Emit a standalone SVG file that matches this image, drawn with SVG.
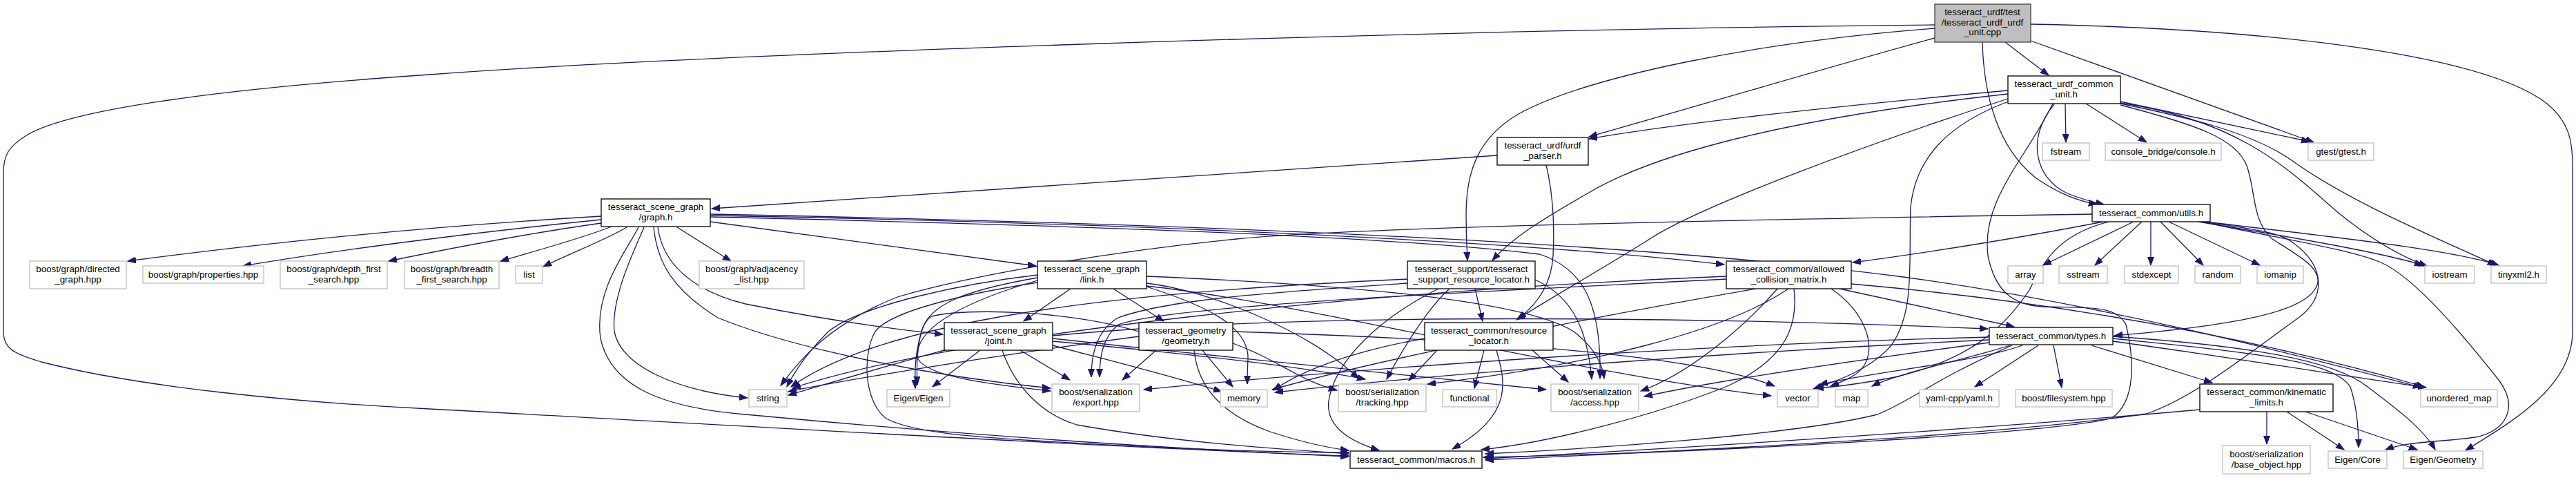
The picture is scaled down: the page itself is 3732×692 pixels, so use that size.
<svg xmlns="http://www.w3.org/2000/svg" width="3732" height="692" viewBox="0 0 3732 692">
<defs>
<marker id="ah" markerUnits="userSpaceOnUse" markerWidth="13" markerHeight="10" refX="12" refY="4.5" orient="auto">
<path d="M0,0 L12,4.5 L0,9 z" fill="#191970" stroke="#191970" stroke-width="1"/>
</marker>
<style>
.e{fill:none;stroke:#191970;stroke-width:1.3;marker-end:url(#ah)}
.n rect{fill:#ffffff;stroke:#000000;stroke-width:1.3}
.x rect{fill:#ffffff;stroke:#bfbfbf;stroke-width:1.3}
.m rect{fill:#bfbfbf;stroke:#404040;stroke-width:1.3}
text{font-family:"Liberation Sans",Arial,sans-serif;font-size:13.33px;fill:#000000;text-anchor:middle}
</style>
</defs>
<rect width="3732" height="692" fill="#ffffff"/>
<g id="edges">
<path class="e" d="M2803,36 C2000,44 1000,80 622,108 C300,130 100,160 40,195 C12,212 5,225 5,250 L5,480 C5,505 20,512 60,524 C200,560 420,582 622,592 C1000,612 1600,648 1954,660"/>
<path class="e" d="M2803,41 C2550,60 2300,110 2200,165 C2140,200 2124,250 2124,310 C2124,340 2125,360 2126,377"/>
<path class="e" d="M2803,55 C2650,97 2420,165 2302,198"/>
<path class="e" d="M2905,61 L2968,109"/>
<path class="e" d="M2872,61 C2874,140 2895,215 2950,258 C2985,282 3012,291 3038,296"/>
<path class="e" d="M2942,59 L3352,206"/>
<path class="e" d="M2942,35 C3300,42 3600,80 3690,150 C3720,175 3727,200 3727,240 L3727,480 C3727,560 3640,610 3572,652"/>
<path class="e" d="M2992,150 L2993,206"/>
<path class="e" d="M3022,150 L3110,206"/>
<path class="e" d="M3072,147 L3346,205"/>
<path class="e" d="M3072,150 C3160,168 3260,190 3320,232 C3400,290 3520,340 3616,384"/>
<path class="e" d="M3072,152 C3180,180 3240,200 3255,240 C3268,275 3262,320 3292,346 C3330,370 3368,390 3356,415 C3340,450 3250,470 3063,486"/>
<path class="e" d="M2909,131 C2700,150 2450,175 2302,201"/>
<path class="e" d="M2909,136 C2600,170 2400,220 2300,280 C2230,320 2190,345 2162,377"/>
<path class="e" d="M2909,143 C2700,210 2460,300 2390,346 C2320,390 2240,435 2197,463"/>
<path class="e" d="M2912,146 C2820,180 2775,230 2768,300 C2765,380 2775,450 2740,500 C2710,535 2660,552 2627,563"/>
<path class="e" d="M2974,150 C2935,230 2870,290 2880,370 C2890,420 2915,442 2960,444 C3020,446 3065,440 3080,470 C3092,520 3095,580 3060,605 C3000,625 2500,655 2149,662"/>
<path class="e" d="M2976,151 C2935,200 2948,258 2995,280 C3020,290 3035,293 3048,296"/>
<path class="e" d="M3072,149 C3250,175 3320,250 3390,310 C3440,350 3480,372 3516,385"/>
<path class="e" d="M2169,225 L1031,302"/>
<path class="e" d="M2240,239 C2250,280 2252,330 2250,370 C2248,410 2228,440 2199,462"/>
<path class="e" d="M871,313 C700,323 450,343 185,378"/>
<path class="e" d="M871,318 C700,335 500,360 352,385"/>
<path class="e" d="M871,323 C750,340 650,360 563,378"/>
<path class="e" d="M886,328 C840,346 780,362 725,378"/>
<path class="e" d="M908,329 C880,346 830,365 787,386"/>
<path class="e" d="M981,329 L1059,378"/>
<path class="e" d="M933,329 C920,360 885,430 890,480 C900,530 980,566 1083,576"/>
<path class="e" d="M925,329 C910,360 860,420 870,490 C885,560 960,590 1080,600 C1400,630 1700,650 1954,661"/>
<path class="e" d="M947,329 C952,380 975,420 1040,460 C1150,505 1350,545 1522,562"/>
<path class="e" d="M953,329 C960,380 1000,420 1080,440 C1180,460 1280,475 1366,484"/>
<path class="e" d="M1029,321 L1501,385"/>
<path class="e" d="M1029,312 C1600,322 2200,348 2498,383"/>
<path class="e" d="M1029,310 C1800,325 2400,355 2750,400 C3050,440 3350,520 3508,561"/>
<path class="e" d="M1029,314 C1500,325 2000,340 2230,368 C2300,390 2320,450 2318,548"/>
<path class="e" d="M1551,418 L1483,465"/>
<path class="e" d="M1613,418 L1686,465"/>
<path class="e" d="M1503,402 C1400,420 1345,440 1335,480 C1326,510 1325,535 1326,562"/>
<path class="e" d="M1503,406 C1420,430 1320,470 1330,520 C1345,545 1430,556 1522,566"/>
<path class="e" d="M1503,409 C1400,425 1290,450 1268,480 C1250,510 1250,580 1284,606 C1320,625 1400,632 1500,638 C1700,650 1850,655 1954,655"/>
<path class="e" d="M1661,410 C1750,420 1900,480 1968,548"/>
<path class="e" d="M1661,400 C1900,410 2200,430 2280,480 C2312,505 2322,530 2324,548"/>
<path class="e" d="M1661,415 C1740,440 1810,470 1808,520 C1807,540 1807,550 1807,556"/>
<path class="e" d="M1503,398 C1400,410 1250,440 1200,480 C1170,510 1150,540 1140,560"/>
<path class="e" d="M1661,414 C1900,440 2300,545 2566,573"/>
<path class="e" d="M1420,507 L1351,560"/>
<path class="e" d="M1478,507 L1550,550"/>
<path class="e" d="M1525,500 C1600,520 1700,545 1770,567"/>
<path class="e" d="M1452,507 C1470,560 1510,600 1560,615 C1700,640 1850,650 1954,657"/>
<path class="e" d="M1372,506 C1300,525 1200,555 1142,572"/>
<path class="e" d="M1525,494 C1700,510 1880,530 1978,549"/>
<path class="e" d="M1525,490 C1800,520 2100,550 2240,564"/>
<path class="e" d="M1525,486 C1900,450 2500,460 2880,476"/>
<path class="e" d="M1675,507 L1626,550"/>
<path class="e" d="M1742,507 L1786,560"/>
<path class="e" d="M1650,480 C1550,450 1400,445 1350,458 C1330,468 1327,520 1329,557"/>
<path class="e" d="M1730,507 C1735,560 1770,600 1840,625 C1880,638 1920,648 1954,652"/>
<path class="e" d="M1650,487 C1400,520 1200,555 1142,567"/>
<path class="e" d="M1786,497 C1850,520 1880,550 1937,565"/>
<path class="e" d="M1786,480 C2100,490 2450,510 2571,559"/>
<path class="e" d="M2137,418 L2148,465"/>
<path class="e" d="M2100,418 C2075,440 2040,490 2009,549"/>
<path class="e" d="M2084,418 C2000,460 1935,520 1925,580 C1920,620 1960,640 1998,652"/>
<path class="e" d="M2224,405 C2280,430 2300,480 2306,549"/>
<path class="e" d="M2039,410 C1900,420 1700,430 1620,460 C1585,480 1581,520 1581,546"/>
<path class="e" d="M2039,404 C1700,420 1300,450 1146,560"/>
<path class="e" d="M2150,507 L2136,562"/>
<path class="e" d="M2082,507 L2041,551"/>
<path class="e" d="M2220,507 L2272,553"/>
<path class="e" d="M2168,507 C2180,550 2195,600 2104,650"/>
<path class="e" d="M2064,490 C1950,510 1880,540 1845,565"/>
<path class="e" d="M2665,418 L2918,473"/>
<path class="e" d="M2653,418 C2700,450 2720,500 2700,530 C2690,545 2670,552 2652,559"/>
<path class="e" d="M2682,411 C2900,430 3200,470 3512,560"/>
<path class="e" d="M2501,404 C2200,420 1700,440 1620,470 C1596,490 1593,520 1593,546"/>
<path class="e" d="M2575,418 C2530,470 2450,540 2377,566"/>
<path class="e" d="M2599,418 C2605,470 2590,520 2500,560 C2400,600 2250,640 2146,651"/>
<path class="e" d="M2544,418 C2300,460 2000,520 1843,564"/>
<path class="e" d="M2591,418 C2500,480 2300,530 2068,556"/>
<path class="e" d="M2501,400 C2000,420 1400,480 1148,562"/>
<path class="e" d="M3030,500 L3205,554"/>
<path class="e" d="M2930,500 C2860,525 2700,540 2636,557"/>
<path class="e" d="M2912,500 C2850,520 2750,540 2712,559"/>
<path class="e" d="M2953,500 L2861,560"/>
<path class="e" d="M2975,500 L2987,561"/>
<path class="e" d="M3061,494 C3250,520 3400,545 3515,561"/>
<path class="e" d="M3061,490 C3250,510 3380,520 3405,560 C3415,590 3417,620 3417,648"/>
<path class="e" d="M3061,487 C3250,500 3380,520 3430,560 C3470,590 3510,620 3528,651"/>
<path class="e" d="M2915,500 C2800,550 2770,580 2720,600 C2600,630 2300,650 2152,657"/>
<path class="e" d="M2882,492 C2500,510 2100,540 1847,568"/>
<path class="e" d="M2882,496 C2700,520 2500,548 2382,574"/>
<path class="e" d="M2882,488 C2400,500 1900,540 1657,564"/>
<path class="e" d="M3284,596 L3284,643"/>
<path class="e" d="M3313,596 L3396,651"/>
<path class="e" d="M3340,596 L3502,651"/>
<path class="e" d="M3187,593 C3000,610 2600,640 2152,664"/>
<path class="e" d="M3091,321 L2960,384"/>
<path class="e" d="M3103,321 L3035,384"/>
<path class="e" d="M3116,321 L3116,384"/>
<path class="e" d="M3130,321 L3192,384"/>
<path class="e" d="M3142,321 L3274,384"/>
<path class="e" d="M3185,321 C3300,340 3450,365 3510,384"/>
<path class="e" d="M3195,321 C3350,340 3550,360 3620,384"/>
<path class="e" d="M3047,321 C2950,340 2800,365 2684,380"/>
<path class="e" d="M3055,321 C2980,340 2960,380 2940,420 C2900,480 2850,520 2750,545 C2700,555 2660,560 2630,562"/>
<path class="e" d="M3031,310 C2500,318 1950,330 1791,346 C1600,365 1400,400 1300,430 C1200,470 1160,520 1131,558"/>
<path class="e" d="M3192,321 C3250,330 3300,335 3320,350 C3370,385 3370,430 3330,460 C3260,510 3180,575 3110,599 C2900,630 2500,650 2152,666"/>
<path class="e" d="M3190,321 C3300,345 3400,360 3447,379 C3500,400 3580,500 3620,550 C3650,590 3630,625 3586,633 C3540,640 3490,638 3456,651"/>
</g>
<g id="n_main" class="m"><rect x="2803" y="6" width="139" height="55"/><text x="2872" y="22">tesseract_urdf/test</text><text x="2872" y="37">/tesseract_urdf_urdf</text><text x="2872" y="51">_unit.cpp</text></g>
<g id="n_common_unit" class="n"><rect x="2909" y="110" width="163" height="40"/><text x="2990" y="126">tesseract_urdf_common</text><text x="2990" y="141">_unit.h</text></g>
<g id="n_fstream" class="x"><rect x="2959" y="207" width="68" height="25"/><text x="2993" y="224">fstream</text></g>
<g id="n_console" class="x"><rect x="3050" y="207" width="168" height="25"/><text x="3134" y="224">console_bridge/console.h</text></g>
<g id="n_gtest" class="x"><rect x="3344" y="207" width="95" height="25"/><text x="3391.5" y="224">gtest/gtest.h</text></g>
<g id="n_utils" class="n"><rect x="3031" y="296" width="171" height="25"/><text x="3116.5" y="313">tesseract_common/utils.h</text></g>
<g id="n_urdf_parser" class="n"><rect x="2169" y="199" width="132" height="40"/><text x="2235" y="215">tesseract_urdf/urdf</text><text x="2235" y="230">_parser.h</text></g>
<g id="n_graph" class="n"><rect x="871" y="288" width="158" height="40"/><text x="950" y="304">tesseract_scene_graph</text><text x="950" y="319">/graph.h</text></g>
<g id="n_directed" class="x"><rect x="43" y="378" width="140" height="40"/><text x="113" y="394">boost/graph/directed</text><text x="113" y="409">_graph.hpp</text></g>
<g id="n_properties" class="x"><rect x="207" y="385" width="175" height="25"/><text x="294.5" y="402">boost/graph/properties.hpp</text></g>
<g id="n_depth" class="x"><rect x="406" y="378" width="155" height="40"/><text x="483.5" y="394">boost/graph/depth_first</text><text x="483.5" y="409">_search.hpp</text></g>
<g id="n_breadth" class="x"><rect x="586" y="378" width="137" height="40"/><text x="654.5" y="394">boost/graph/breadth</text><text x="654.5" y="409">_first_search.hpp</text></g>
<g id="n_list" class="x"><rect x="747" y="385" width="39" height="25"/><text x="766.5" y="402">list</text></g>
<g id="n_adjacency" class="x"><rect x="1013" y="378" width="152" height="40"/><text x="1089" y="394">boost/graph/adjacency</text><text x="1089" y="409">_list.hpp</text></g>
<g id="n_string" class="x"><rect x="1085" y="564" width="55" height="25"/><text x="1112.5" y="581">string</text></g>
<g id="n_link" class="n"><rect x="1503" y="378" width="158" height="40"/><text x="1582" y="394">tesseract_scene_graph</text><text x="1582" y="409">/link.h</text></g>
<g id="n_joint" class="n"><rect x="1368" y="467" width="157" height="40"/><text x="1446.5" y="483">tesseract_scene_graph</text><text x="1446.5" y="498">/joint.h</text></g>
<g id="n_geometry" class="n"><rect x="1650" y="467" width="136" height="40"/><text x="1718" y="483">tesseract_geometry</text><text x="1718" y="498">/geometry.h</text></g>
<g id="n_eigen" class="x"><rect x="1285" y="564" width="91" height="25"/><text x="1330.5" y="581">Eigen/Eigen</text></g>
<g id="n_export" class="x"><rect x="1524" y="556" width="127" height="40"/><text x="1587.5" y="572">boost/serialization</text><text x="1587.5" y="587">/export.hpp</text></g>
<g id="n_memory" class="x"><rect x="1768" y="564" width="68" height="25"/><text x="1802" y="581">memory</text></g>
<g id="n_support" class="n"><rect x="2039" y="378" width="185" height="40"/><text x="2131.5" y="394">tesseract_support/tesseract</text><text x="2131.5" y="409">_support_resource_locator.h</text></g>
<g id="n_resource" class="n"><rect x="2064" y="467" width="186" height="40"/><text x="2157" y="483">tesseract_common/resource</text><text x="2157" y="498">_locator.h</text></g>
<g id="n_tracking" class="x"><rect x="1939" y="556" width="127" height="40"/><text x="2002.5" y="572">boost/serialization</text><text x="2002.5" y="587">/tracking.hpp</text></g>
<g id="n_functional" class="x"><rect x="2090" y="564" width="78" height="25"/><text x="2129" y="581">functional</text></g>
<g id="n_access" class="x"><rect x="2247" y="556" width="127" height="40"/><text x="2310.5" y="572">boost/serialization</text><text x="2310.5" y="587">/access.hpp</text></g>
<g id="n_macros" class="n"><rect x="1956" y="653" width="191" height="25"/><text x="2051.5" y="670">tesseract_common/macros.h</text></g>
<g id="n_acm" class="n"><rect x="2501" y="378" width="181" height="40"/><text x="2591.5" y="394">tesseract_common/allowed</text><text x="2591.5" y="409">_collision_matrix.h</text></g>
<g id="n_array" class="x"><rect x="2909" y="385" width="51" height="25"/><text x="2934.5" y="402">array</text></g>
<g id="n_sstream" class="x"><rect x="2983" y="385" width="70" height="25"/><text x="3018" y="402">sstream</text></g>
<g id="n_stdexcept" class="x"><rect x="3078" y="385" width="78" height="25"/><text x="3117" y="402">stdexcept</text></g>
<g id="n_random" class="x"><rect x="3180" y="385" width="66" height="25"/><text x="3213" y="402">random</text></g>
<g id="n_iomanip" class="x"><rect x="3270" y="385" width="67" height="25"/><text x="3303.5" y="402">iomanip</text></g>
<g id="n_iostream" class="x"><rect x="3513" y="385" width="72" height="25"/><text x="3549" y="402">iostream</text></g>
<g id="n_tinyxml2" class="x"><rect x="3609" y="385" width="80" height="25"/><text x="3649" y="402">tinyxml2.h</text></g>
<g id="n_types" class="n"><rect x="2882" y="474" width="179" height="25"/><text x="2971.5" y="491">tesseract_common/types.h</text></g>
<g id="n_vector" class="x"><rect x="2575" y="564" width="59" height="25"/><text x="2604.5" y="581">vector</text></g>
<g id="n_map" class="x"><rect x="2659" y="564" width="47" height="25"/><text x="2682.5" y="581">map</text></g>
<g id="n_yaml" class="x"><rect x="2781" y="564" width="115" height="25"/><text x="2838.5" y="581">yaml-cpp/yaml.h</text></g>
<g id="n_filesystem" class="x"><rect x="2920" y="564" width="140" height="25"/><text x="2990" y="581">boost/filesystem.hpp</text></g>
<g id="n_unordered_map" class="x"><rect x="3507" y="564" width="111" height="25"/><text x="3562.5" y="581">unordered_map</text></g>
<g id="n_kinematic" class="n"><rect x="3187" y="556" width="193" height="40"/><text x="3283.5" y="572">tesseract_common/kinematic</text><text x="3283.5" y="587">_limits.h</text></g>
<g id="n_base_object" class="x"><rect x="3220" y="645" width="127" height="41"/><text x="3283.5" y="662">boost/serialization</text><text x="3283.5" y="677">/base_object.hpp</text></g>
<g id="n_eigen_core" class="x"><rect x="3373" y="653" width="85" height="25"/><text x="3415.5" y="670">Eigen/Core</text></g>
<g id="n_eigen_geometry" class="x"><rect x="3482" y="653" width="115" height="25"/><text x="3539.5" y="670">Eigen/Geometry</text></g>
</svg>
